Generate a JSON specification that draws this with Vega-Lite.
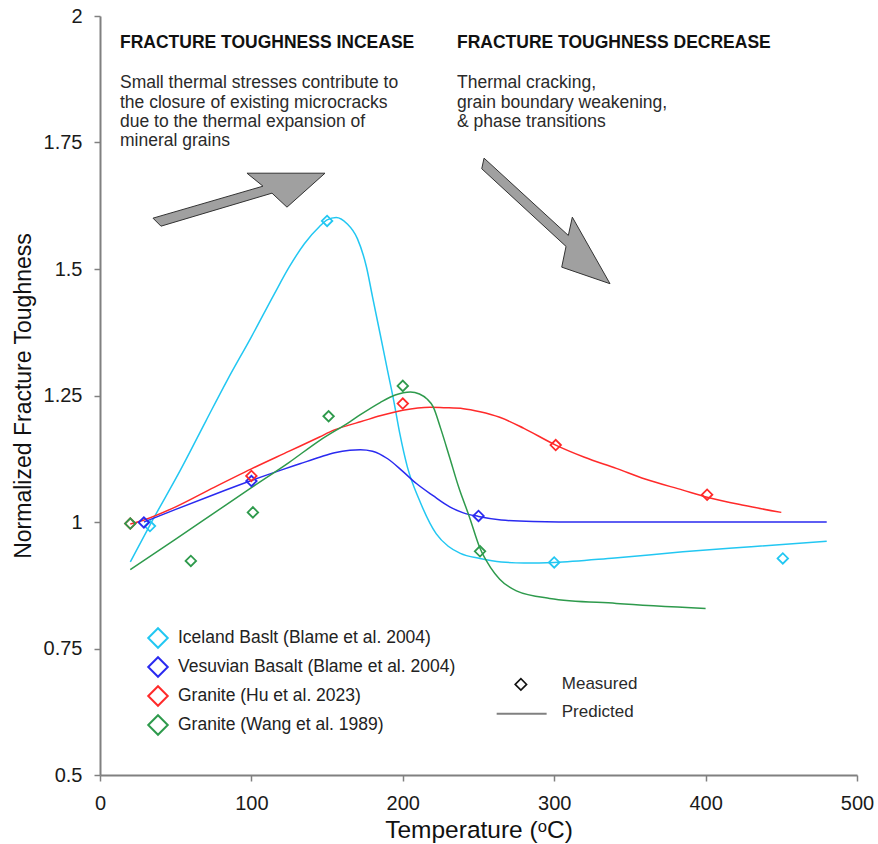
{
  "$schema": "https://vega.github.io/schema/vega-lite/v6.json",
  "width": 757,
  "height": 759,
  "autosize": {"type": "none"},
  "padding": {"left": 100, "top": 16, "right": 21, "bottom": 69},
  "background": "white",
  "config": {"view": {"stroke": null}, "font": "Liberation Sans"},
  "datasets": {
    "curves": [
      {"s":"IB","x":20,"y":0.921},{"s":"IB","x":35,"y":1.005},{"s":"IB","x":53,"y":1.102},{"s":"IB","x":70,"y":1.2},{"s":"IB","x":84,"y":1.28},{"s":"IB","x":100,"y":1.366},{"s":"IB","x":115,"y":1.45},{"s":"IB","x":125,"y":1.504},{"s":"IB","x":135,"y":1.55},{"s":"IB","x":145,"y":1.584},{"s":"IB","x":150,"y":1.597},{"s":"IB","x":156,"y":1.602},{"s":"IB","x":163,"y":1.59},{"s":"IB","x":170,"y":1.56},{"s":"IB","x":176,"y":1.504},{"s":"IB","x":180,"y":1.445},{"s":"IB","x":185,"y":1.372},{"s":"IB","x":190,"y":1.298},{"s":"IB","x":194,"y":1.24},{"s":"IB","x":198,"y":1.175},{"s":"IB","x":203,"y":1.109},{"s":"IB","x":211,"y":1.043},{"s":"IB","x":222,"y":0.977},{"s":"IB","x":230,"y":0.952},{"s":"IB","x":238,"y":0.938},{"s":"IB","x":251,"y":0.928},{"s":"IB","x":265,"y":0.921},{"s":"IB","x":280,"y":0.919},{"s":"IB","x":300,"y":0.92},{"s":"IB","x":340,"y":0.929},{"s":"IB","x":385,"y":0.941},{"s":"IB","x":430,"y":0.951},{"s":"IB","x":480,"y":0.962},
      {"s":"VB","x":29,"y":1.0},{"s":"VB","x":50,"y":1.025},{"s":"VB","x":75,"y":1.054},{"s":"VB","x":100,"y":1.082},{"s":"VB","x":120,"y":1.103},{"s":"VB","x":132,"y":1.115},{"s":"VB","x":145,"y":1.128},{"s":"VB","x":155,"y":1.137},{"s":"VB","x":165,"y":1.142},{"s":"VB","x":172,"y":1.143},{"s":"VB","x":180,"y":1.14},{"s":"VB","x":190,"y":1.125},{"s":"VB","x":200,"y":1.1},{"s":"VB","x":209,"y":1.076},{"s":"VB","x":220,"y":1.052},{"s":"VB","x":231,"y":1.03},{"s":"VB","x":240,"y":1.018},{"s":"VB","x":250,"y":1.011},{"s":"VB","x":265,"y":1.004},{"s":"VB","x":286,"y":1.001},{"s":"VB","x":320,"y":1.0},{"s":"VB","x":400,"y":1.0},{"s":"VB","x":480,"y":1.0},
      {"s":"GH","x":20,"y":0.996},{"s":"GH","x":30,"y":1.005},{"s":"GH","x":50,"y":1.03},{"s":"GH","x":75,"y":1.068},{"s":"GH","x":100,"y":1.105},{"s":"GH","x":125,"y":1.14},{"s":"GH","x":145,"y":1.168},{"s":"GH","x":154,"y":1.181},{"s":"GH","x":165,"y":1.192},{"s":"GH","x":172,"y":1.198},{"s":"GH","x":185,"y":1.21},{"s":"GH","x":200,"y":1.221},{"s":"GH","x":218,"y":1.227},{"s":"GH","x":227,"y":1.226},{"s":"GH","x":240,"y":1.224},{"s":"GH","x":251,"y":1.218},{"s":"GH","x":264,"y":1.207},{"s":"GH","x":280,"y":1.185},{"s":"GH","x":301,"y":1.152},{"s":"GH","x":320,"y":1.128},{"s":"GH","x":341,"y":1.106},{"s":"GH","x":360,"y":1.085},{"s":"GH","x":385,"y":1.063},{"s":"GH","x":401,"y":1.049},{"s":"GH","x":425,"y":1.033},{"s":"GH","x":450,"y":1.019},
      {"s":"GW","x":20,"y":0.906},{"s":"GW","x":50,"y":0.966},{"s":"GW","x":75,"y":1.017},{"s":"GW","x":100,"y":1.068},{"s":"GW","x":125,"y":1.118},{"s":"GW","x":145,"y":1.161},{"s":"GW","x":165,"y":1.198},{"s":"GW","x":172,"y":1.212},{"s":"GW","x":185,"y":1.236},{"s":"GW","x":195,"y":1.251},{"s":"GW","x":205,"y":1.257},{"s":"GW","x":211,"y":1.253},{"s":"GW","x":216,"y":1.243},{"s":"GW","x":220,"y":1.228},{"s":"GW","x":225,"y":1.185},{"s":"GW","x":231,"y":1.127},{"s":"GW","x":237,"y":1.068},{"s":"GW","x":244,"y":1.01},{"s":"GW","x":251,"y":0.948},{"s":"GW","x":258,"y":0.91},{"s":"GW","x":264,"y":0.887},{"s":"GW","x":275,"y":0.864},{"s":"GW","x":297,"y":0.849},{"s":"GW","x":341,"y":0.839},{"s":"GW","x":400,"y":0.829}
    ],
    "points": [
      {"s":"IB","x":33,"y":0.992},{"s":"IB","x":150,"y":1.595},{"s":"IB","x":300,"y":0.92},{"s":"IB","x":451,"y":0.928},
      {"s":"VB","x":29,"y":0.999},{"s":"VB","x":100,"y":1.081},{"s":"VB","x":250,"y":1.012},
      {"s":"GH","x":20,"y":0.997},{"s":"GH","x":100,"y":1.091},{"s":"GH","x":200,"y":1.234},{"s":"GH","x":301,"y":1.152},{"s":"GH","x":401,"y":1.054},
      {"s":"GW","x":20,"y":0.997},{"s":"GW","x":60,"y":0.923},{"s":"GW","x":101,"y":1.019},{"s":"GW","x":151,"y":1.209},{"s":"GW","x":200,"y":1.269},{"s":"GW","x":251,"y":0.942}
    ],
    "heads": [
      {"x":13.2,"y":1.946,"t":"FRACTURE TOUGHNESS INCEASE"},
      {"x":235.8,"y":1.946,"t":"FRACTURE TOUGHNESS DECREASE"}
    ],
    "notes": [
      {"x":13.2,"y":1.867,"t":"Small thermal stresses contribute to"},
      {"x":13.2,"y":1.829,"t":"the closure of existing microcracks"},
      {"x":13.2,"y":1.791,"t":"due to the thermal expansion of"},
      {"x":13.2,"y":1.753,"t":"mineral grains"},
      {"x":235.8,"y":1.867,"t":"Thermal cracking,"},
      {"x":235.8,"y":1.829,"t":"grain boundary weakening,"},
      {"x":235.8,"y":1.791,"t":"& phase transitions"}
    ],
    "arrow1": [{"x":91.8,"y":1.637}],
    "arrow2": [{"x":294.5,"y":1.595}],
    "keyPoint": [{"x":278,"y":0.679}],
    "keyLine": [{"x":262,"y":0.621},{"x":295,"y":0.621}],
    "keyText": [{"x":305,"y":0.679,"t":"Measured"},{"x":305,"y":0.625,"t":"Predicted"}]
  },
  "encoding": {
    "x": {"field":"x","type":"quantitative","scale":{"domain":[0,500],"nice":false,"zero":false},
      "axis":{"title":"Temperature (ᵒC)","values":[0,100,200,300,400,500],"grid":false,"labelFlush":false,"labelOverlap":false,"domainColor":"#808080","domainWidth":2,"tickColor":"#808080","tickWidth":1.5,"tickSize":6,"labelFontSize":20,"labelColor":"#1a1a1a","labelPadding":12,"titleFontSize":24.5,"titleFontWeight":"normal","titleColor":"#111","titlePadding":5}},
    "y": {"field":"y","type":"quantitative","scale":{"domain":[0.5,2],"nice":false,"zero":false},
      "axis":{"title":"Normalized Fracture Toughness","values":[0.5,0.75,1,1.25,1.5,1.75,2],"labelExpr":"'' + datum.value","grid":false,"labelFlush":false,"labelOverlap":false,"domainColor":"#808080","domainWidth":2,"tickColor":"#808080","tickWidth":1.5,"tickSize":6,"labelFontSize":20,"labelColor":"#1a1a1a","labelPadding":12,"titleFontSize":23,"titleFontWeight":"normal","titleColor":"#111","titlePadding":8}}
  },
  "layer": [
    {
      "data": {"name":"curves"},
      "mark": {"type":"line","interpolate":"monotone","strokeWidth":1.5},
      "encoding": {
        "stroke": {"field":"s","type":"nominal","scale":{"domain":["GW","GH","VB","IB"],"range":["#2E9A4C","#FF2A2A","#2A2AF0","#22C7F2"]},"legend":null}
      }
    },
    {
      "data": {"name":"points"},
      "mark": {"type":"point","shape":"diamond","filled":false,"size":110,"strokeWidth":1.8,"opacity":1},
      "encoding": {
        "color": {"field":"s","type":"nominal","scale":{"domain":["IB","VB","GH","GW"],"range":["#22C7F2","#2A2AF0","#FF2A2A","#2E9A4C"]},
          "legend":{"title":null,"orient":"none","legendX":47,"legendY":611,"padding":0,"symbolType":"diamond","symbolSize":380,"symbolStrokeWidth":2,"labelFontSize":17.5,"labelColor":"#222","labelOffset":9,"rowPadding":1,"labelLimit":400,
            "labelExpr":"datum.label == 'IB' ? 'Iceland Baslt (Blame et al. 2004)' : datum.label == 'VB' ? 'Vesuvian Basalt (Blame et al. 2004)' : datum.label == 'GH' ? 'Granite (Hu et al. 2023)' : 'Granite (Wang et al. 1989)'",
            "encode": {"symbols": {"update": {"stroke": {"signal": "datum.value == 'IB' ? '#168EAA' : datum.value == 'VB' ? '#1414A0' : datum.value == 'GH' ? '#FF1E1E' : '#17772C'"}}}}}}
      }
    },
    {
      "data": {"name":"arrow1"},
      "mark": {"type":"point","shape":"M -1 0.215 L 0.279 -0.157 L 0.093 -0.308 L 1 -0.308 L 0.558 0.087 L 0.384 -0.076 L -0.907 0.308 Z","filled":true,"size":29584,"fill":"#A0A0A0","stroke":"#333333","strokeWidth":1,"opacity":1}
    },
    {
      "data": {"name":"arrow2"},
      "mark": {"type":"point","shape":"M -0.963 -0.978 L 0.35 0.226 L 0.412 -0.059 L 0.999 0.978 L 0.247 0.72 L 0.314 0.397 L -0.999 -0.813 Z","filled":true,"size":16487,"fill":"#A0A0A0","stroke":"#333333","strokeWidth":1,"opacity":1}
    },
    {
      "data": {"name":"heads"},
      "mark": {"type":"text","align":"left","baseline":"middle","fontSize":17.5,"fontWeight":"bold","color":"#111"},
      "encoding": {"text": {"field":"t"}}
    },
    {
      "data": {"name":"notes"},
      "mark": {"type":"text","align":"left","baseline":"middle","fontSize":17.5,"color":"#2a2a2a"},
      "encoding": {"text": {"field":"t"}}
    },
    {
      "data": {"name":"keyPoint"},
      "mark": {"type":"point","shape":"diamond","filled":false,"size":130,"strokeWidth":1.6,"color":"#111","opacity":1}
    },
    {
      "data": {"name":"keyLine"},
      "mark": {"type":"line","color":"#808080","strokeWidth":2}
    },
    {
      "data": {"name":"keyText"},
      "mark": {"type":"text","align":"left","baseline":"middle","fontSize":17,"color":"#2a2a2a"},
      "encoding": {"text": {"field":"t"}}
    }
  ]
}
